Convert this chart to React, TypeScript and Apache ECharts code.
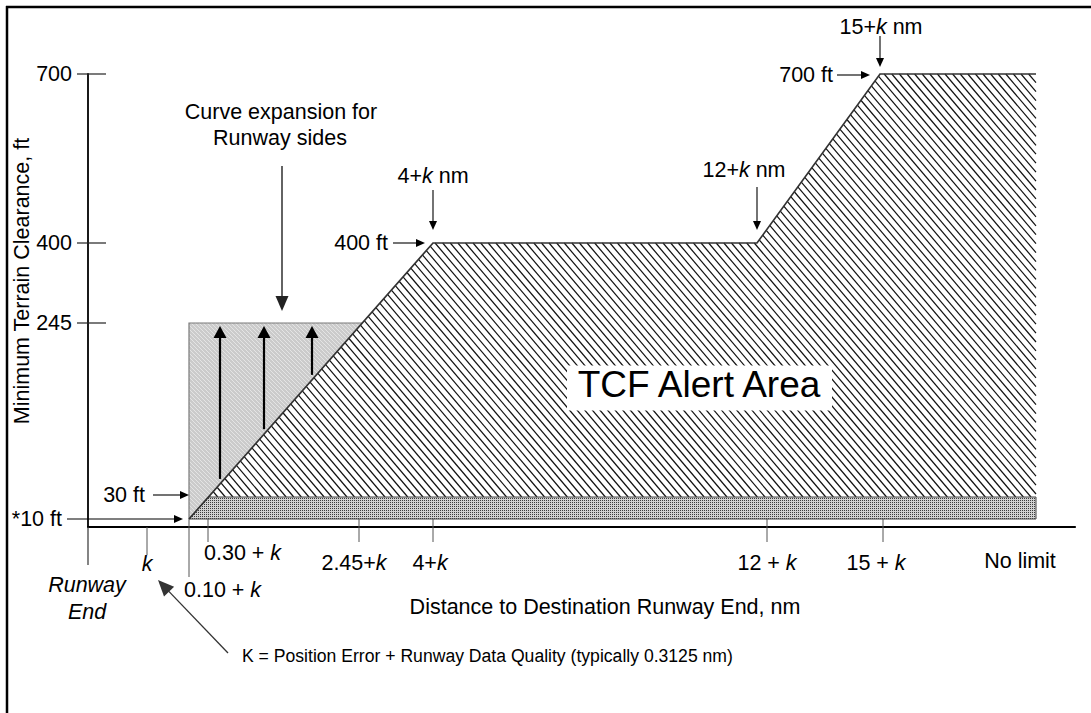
import React, { useEffect, useRef } from 'react';
import * as echarts from 'echarts';

// ---------------- DATA ----------------
// Clearance levels (ft) and the schematic height at which the figure draws each level (figure is not to scale)
const clearanceFt = [0, 10, 30, 245, 400, 700];
const clearanceDrawn = [0, 8, 30, 204, 284, 453];

// Y axis ticks
const yTickFt = [700, 400, 245];
const yTickLabels = ['700', '400', '245'];

// X axis stations, in schematic distance units (figure is not to scale)
const xTickLabels = ['k', '0.10 + {i|k}', '0.30 + {i|k}', '2.45+{i|k}', '4+{i|k}', '12 + {i|k}', '15 + {i|k}'];
const xTickAt = [59, 101, 120, 271, 345, 679, 795];
const runwayEndAt = 0;
const noLimitAt = 932;
const xMax = 987;

// TCF floor profile: station and clearance (ft)
const profileX = [101, 345, 669, 792, 948];
const profileFt = [10, 400, 400, 700, 700];

// Base band (10 ft to 30 ft) and runway-side curve expansion (up to 245 ft)
const bandFt = [10, 30];
const expansionTopFt = 245;
const expansionArrowX = [132, 176, 224];
const expansionLabelAt = 194;

// Annotated profile points: [profile index, distance label, height label]
const pointNotes = [
  { idx: 1, nm: '4+{i|k} nm', ft: '400 ft' },
  { idx: 2, nm: '12+{i|k} nm', ft: '' },
  { idx: 3, nm: '15+{i|k} nm', ft: '700 ft' },
];

const tcfLabel = 'TCF Alert Area';
const tcfLabelAt = [611, 169];
const kNote = 'K = Position Error + Runway Data Quality (typically 0.3125 nm)';

// ---------------- STYLE / LAYOUT ----------------
const FONT = '"Liberation Sans", Arial, Helvetica, sans-serif';
const FS = 21.5;
// per x tick: [align, dx, dy of label from axis line, tick starts at band bottom?, tick length below axis]
const xTickStyle: [string, number, number, boolean, number][] = [
  ['center', 0, 37, false, 28],
  ['left', -5, 63, true, 50],
  ['left', -4, 26, true, 15],
  ['center', -5, 36, true, 15],
  ['center', -3, 36, true, 15],
  ['center', 0, 36, true, 15],
  ['center', -7, 36, true, 15],
];

function ftToDrawn(ft: number) {
  for (let i = 1; i < clearanceFt.length; i++) {
    if (ft <= clearanceFt[i]) {
      const t = (ft - clearanceFt[i - 1]) / (clearanceFt[i] - clearanceFt[i - 1]);
      return clearanceDrawn[i - 1] + t * (clearanceDrawn[i] - clearanceDrawn[i - 1]);
    }
  }
  return clearanceDrawn[clearanceDrawn.length - 1];
}

function txt(text: string, x: number, y: number, o: any = {}) {
  const size = o.size || FS;
  return {
    type: 'text',
    x,
    y,
    rotation: o.rotation || 0,
    silent: true,
    style: {
      text,
      fill: '#000',
      fontSize: size,
      fontFamily: FONT,
      fontStyle: o.italic ? 'italic' : 'normal',
      align: o.align || 'center',
      verticalAlign: 'middle',
      rich: { i: { fontStyle: 'italic', fontSize: size, fontFamily: FONT, fill: '#000' } },
    },
  };
}

function ln(x1: number, y1: number, x2: number, y2: number, stroke = '#000', lineWidth = 1) {
  return { type: 'line', silent: true, shape: { x1, y1, x2, y2 }, style: { stroke, lineWidth } };
}

function arrow(x1: number, y1: number, x2: number, y2: number, hl: number, hw: number, lw: number, color = '#000') {
  const dx = x2 - x1, dy = y2 - y1;
  const L = Math.sqrt(dx * dx + dy * dy);
  const ux = dx / L, uy = dy / L;
  const bx = x2 - ux * hl, by = y2 - uy * hl;
  const nx = -uy, ny = ux;
  return [
    ln(x1, y1, bx + ux * 1, by + uy * 1, color, lw),
    {
      type: 'polygon',
      silent: true,
      shape: { points: [[x2, y2], [bx + nx * hw / 2, by + ny * hw / 2], [bx - nx * hw / 2, by - ny * hw / 2]] },
      style: { fill: color },
    },
  ];
}

function hatch(poly: number[][], s: number, step: number) {
  const ws = poly.map((p) => p[0] - s * p[1]);
  const minW = Math.min(...ws), maxW = Math.max(...ws);
  const out: any[] = [];
  for (let c = Math.ceil(minW / step) * step + 0.5; c <= maxW; c += step) {
    const vs: number[] = [];
    for (let i = 0; i < poly.length; i++) {
      const j = (i + 1) % poly.length;
      const a = poly[i], b = poly[j];
      const wa = ws[i], wb = ws[j];
      if ((wa <= c && c < wb) || (wb <= c && c < wa)) {
        const t = (c - wa) / (wb - wa);
        vs.push(a[1] + t * (b[1] - a[1]));
      }
    }
    vs.sort((p, q) => p - q);
    for (let k = 0; k + 1 < vs.length; k += 2) {
      out.push(ln(c + s * vs[k], vs[k], c + s * vs[k + 1], vs[k + 1], '#111', 1.2));
    }
  }
  return out;
}

function makeTile(w: number, h: number, bg: string | null, px: number[][], color: string) {
  const c = document.createElement('canvas');
  c.width = w;
  c.height = h;
  const g = c.getContext('2d')!;
  if (bg) {
    g.fillStyle = bg;
    g.fillRect(0, 0, w, h);
  }
  g.fillStyle = color;
  px.forEach(([x, y]) => g.fillRect(x, y, 1, 1));
  return { image: c, repeat: 'repeat', imageWidth: w, imageHeight: h };
}

export default function App() {
  const ref = useRef<HTMLDivElement>(null);
  useEffect(() => {
    if (!ref.current) return;
    const chart = echarts.init(ref.current, null, { renderer: 'svg' });

    const dotTile = makeTile(2, 2, null, [[0, 0]], '#3c3c3c');
    const stripeTile = makeTile(4, 4, null, [[0, 0], [1, 1], [2, 2], [3, 3]], '#e4e4e4');

    const renderItem = (params: any, api: any) => {
      const xOf = (x: number) => api.coord([x, 0])[0];
      const yOf = (ft: number) => api.coord([0, ftToDrawn(ft)])[1];
      const P = (x: number, ft: number) => [xOf(x), yOf(ft)];
      const axisY = yOf(0);
      const axisX = xOf(runwayEndAt);

      const pts = profileX.map((x, i) => P(x, profileFt[i]));
      const A = pts[0], B = pts[1];
      const diagX = (y: number) => A[0] + ((y - A[1]) / (B[1] - A[1])) * (B[0] - A[0]);
      const diagY = (x: number) => A[1] + ((x - A[0]) / (B[0] - A[0])) * (B[1] - A[1]);
      const yBandBot = yOf(bandFt[0]);
      const yBandTop = yOf(bandFt[1]);
      const yExp = yOf(expansionTopFt);
      const E = pts[pts.length - 1];
      const D30 = [diagX(yBandTop), yBandTop];
      const F = [E[0], yBandTop];
      const G = [E[0], yBandBot];
      const T = [diagX(yExp), yExp];

      const ch: any[] = [];

      // curve expansion (grey triangle)
      const tri = [A, [A[0], yExp], T];
      ch.push({ type: 'polygon', silent: true, shape: { points: tri }, style: { fill: '#cbcbcb' } });
      ch.push({ type: 'polygon', silent: true, shape: { points: tri }, style: { fill: stripeTile } });

      // TCF alert area (hatched)
      const area = [D30, B, pts[2], pts[3], E, F];
      ch.push({ type: 'polygon', silent: true, shape: { points: area }, style: { fill: '#fff' } });
      ch.push(...hatch(area, 0.85, 7.6));

      // base band 10-30 ft (stippled)
      const band = [A, D30, F, G];
      ch.push({ type: 'polygon', silent: true, shape: { points: band }, style: { fill: '#d2d2d2' } });
      ch.push({ type: 'polygon', silent: true, shape: { points: band }, style: { fill: dotTile, stroke: '#444', lineWidth: 1 } });

      // expansion box edges
      ch.push({ type: 'polyline', silent: true, shape: { points: [A, [A[0], yExp], T] }, style: { stroke: '#7a7a7a', lineWidth: 1.2, fill: null } });

      // profile outline
      ch.push({ type: 'polyline', silent: true, shape: { points: pts }, style: { stroke: '#333', lineWidth: 1.7, fill: null } });

      // expansion arrows
      expansionArrowX.forEach((ax) => {
        const x = xOf(ax);
        ch.push(...arrow(x, diagY(x) - 5, x, yExp + 3, 12, 13, 2.2, '#000'));
      });

      // TCF label
      const [tx, ty] = P(tcfLabelAt[0], tcfLabelAt[1]);
      ch.push({ type: 'rect', silent: true, shape: { x: tx - 132, y: ty - 19, width: 265, height: 45 }, style: { fill: '#fff' } });
      ch.push(txt(tcfLabel, tx, ty, { size: 37 }));

      // x axis: runway-end extension, ticks, labels
      ch.push(ln(axisX, axisY, axisX, axisY + 38, '#333', 1.2));
      ch.push(txt('Runway', axisX - 1, axisY + 58, { italic: true }));
      ch.push(txt('End', axisX - 1, axisY + 85, { italic: true }));
      xTickAt.forEach((xv, i) => {
        const [al, dx, dy, fromBand, len] = xTickStyle[i];
        const x = xOf(xv);
        ch.push(ln(x, fromBand ? yBandBot : axisY, x, axisY + len, '#555', 1));
        ch.push(txt(xTickLabels[i], x + dx, axisY + dy, { align: al, italic: i === 0 }));
      });
      ch.push(txt('No limit', xOf(noLimitAt), axisY + 34));
      ch.push(txt('Distance to Destination Runway End, nm', 605, axisY + 80));

      // y axis ticks and labels
      yTickFt.forEach((ft, i) => {
        const y = yOf(ft);
        ch.push(ln(axisX - 11, y, axisX + 18, y, '#222', 1.2));
        ch.push(txt(yTickLabels[i], axisX - 16, y, { align: 'right' }));
      });
      ch.push(txt('Minimum Terrain Clearance, ft', 22, 281, { rotation: Math.PI / 2 }));

      // 30 ft / *10 ft pointers
      ch.push(txt('30 ft', A[0] - 44, yBandTop - 2, { align: 'right' }));
      ch.push(...arrow(A[0] - 36, yBandTop - 2, A[0], yBandTop - 2, 9, 8, 1.1));
      ch.push(txt('*10 ft', A[0] - 127, yBandBot, { align: 'right' }));
      ch.push(...arrow(A[0] - 122, yBandBot, A[0] - 6, yBandBot, 9, 8, 1.1));

      // curve expansion note
      const ex = xOf(expansionLabelAt);
      ch.push(txt('Curve expansion for', ex - 1, yExp - 211));
      ch.push(txt('Runway sides', ex - 2, yExp - 185));
      ch.push(...arrow(ex, yExp - 157, ex, yExp - 12, 15, 13, 1.4, '#222'));

      // profile point notes
      pointNotes.forEach((n) => {
        const [px, py] = pts[n.idx];
        if (n.idx === 3) {
          ch.push(txt(n.nm, px + 1, py - 47));
          ch.push(...arrow(px, py - 38, px, py - 7, 9, 8, 1.1));
          ch.push(txt(n.ft, px - 47, py + 1, { align: 'right' }));
          ch.push(...arrow(px - 43, py + 1, px - 10, py + 1, 9, 8, 1.1));
        } else if (n.idx === 1) {
          ch.push(txt(n.nm, px, py - 67));
          ch.push(...arrow(px, py - 53, px, py - 13, 9, 8, 1.1));
          ch.push(txt(n.ft, px - 45, py, { align: 'right' }));
          ch.push(...arrow(px - 40, py, px - 8, py, 9, 8, 1.1));
        } else {
          ch.push(txt(n.nm, px - 13, py - 73));
          ch.push(...arrow(px, py - 56, px, py - 13, 9, 8, 1.1));
        }
      });

      // k definition note
      const kx = xOf(xTickAt[0]);
      ch.push(...arrow(kx + 81, axisY + 126, kx + 11, axisY + 53, 16, 14, 1.3, '#333'));
      ch.push(txt(kNote, kx + 95, axisY + 129, { align: 'left', size: 17.6 }));

      return { type: 'group', children: ch };
    };

    const axisCommon = {
      type: 'value',
      axisTick: { show: false },
      axisLabel: { show: false },
      splitLine: { show: false },
    };

    chart.setOption({
      animation: false,
      backgroundColor: '#fff',
      grid: { left: 88, top: 74, width: xMax, height: clearanceDrawn[clearanceDrawn.length - 1] },
      xAxis: { ...axisCommon, min: 0, max: xMax, axisLine: { lineStyle: { color: '#000', width: 2.2 } } },
      yAxis: { ...axisCommon, min: 0, max: clearanceDrawn[clearanceDrawn.length - 1], axisLine: { lineStyle: { color: '#000', width: 1.8 } } },
      graphic: [
        { type: 'line', silent: true, shape: { x1: 7, y1: 6, x2: 7, y2: 713 }, style: { stroke: '#000', lineWidth: 2.5 } },
        { type: 'line', silent: true, shape: { x1: 6, y1: 7, x2: 1091, y2: 7 }, style: { stroke: '#000', lineWidth: 2.5 } },
      ],
      series: [
        {
          type: 'custom',
          coordinateSystem: 'cartesian2d',
          clip: false,
          silent: true,
          data: [[0, 0]],
          renderItem,
          z: 1,
        },
      ],
    });
    return () => chart.dispose();
  }, []);
  return <div ref={ref} style={{ position: 'fixed', left: 0, top: 0, width: 1091, height: 713, background: '#fff' }} />;
}
